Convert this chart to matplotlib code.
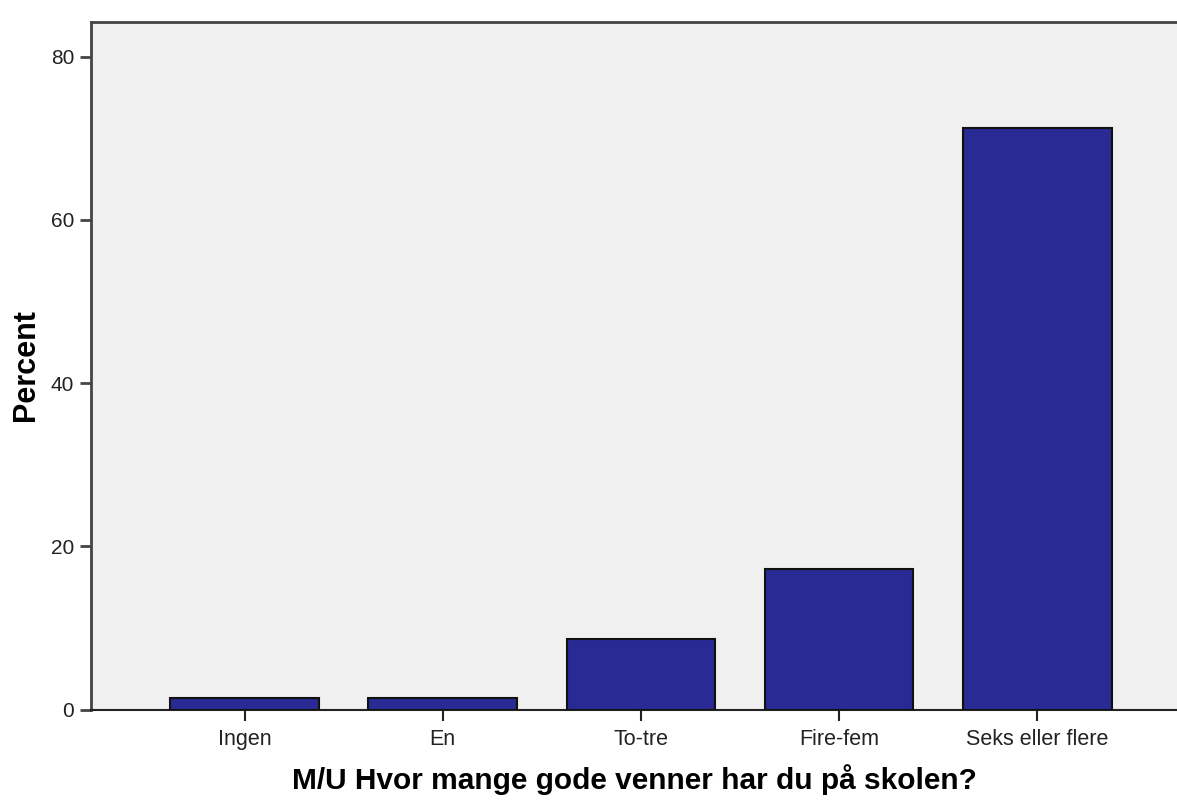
import matplotlib
matplotlib.use("Agg")
import matplotlib.pyplot as plt
import numpy as np

categories = ["Ingen", "En", "To-tre", "Fire-fem", "Seks eller flere"]
percent = [1.4, 1.45, 8.6, 17.2, 71.3]
yticks = [0, 20, 40, 60, 80]

plt.rcParams["font.family"] = ["Liberation Sans", "DejaVu Sans"]

W, H = 1177, 801
fig = plt.figure(figsize=(W / 100, H / 100), dpi=100)
ax = fig.add_axes([91 / W, (H - 709.5) / H, (W - 91) / W, (709.5 - 21.5) / H])

x = np.arange(len(categories))
ax.bar(x, percent, width=0.75, color="#292A93", edgecolor="#111111", linewidth=1.5, zorder=3)

ax.set_facecolor("#F0F0F0")
ax.set_xlim(-0.775, 4.705)
ax.set_ylim(0, 84.3)
ax.set_yticks(yticks)
ax.set_xticks(x)
ax.set_xticklabels(categories)

for side in ["left", "top"]:
    ax.spines[side].set_color("#444444")
    ax.spines[side].set_linewidth(2)
ax.spines["bottom"].set_color("#222222")
ax.spines["bottom"].set_linewidth(1.5)
ax.spines["right"].set_visible(False)

ax.tick_params(axis="y", length=8, width=2, color="#444444", labelsize=15, labelcolor="#222222", pad=4)
ax.tick_params(axis="x", length=8, width=1.5, color="#222222", labelsize=15.5, labelcolor="#222222", pad=6)

ax.set_ylabel("Percent", fontsize=22, fontweight="bold", labelpad=7)
ax.set_xlabel("M/U Hvor mange gode venner har du på skolen?", fontsize=21.5, fontweight="bold", labelpad=10)

fig.savefig("out.png", dpi=100)
